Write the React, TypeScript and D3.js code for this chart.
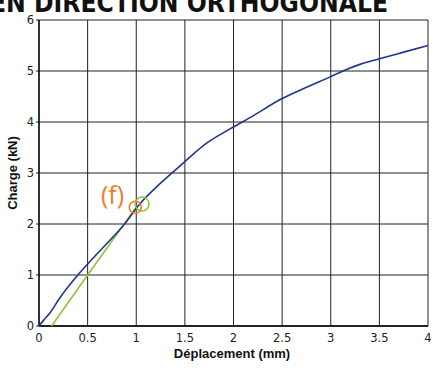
import React from "react";
import * as d3 from "d3";

const blueX = [0, 0.05, 0.11, 0.21, 0.4, 0.6, 0.88, 1.04, 1.25, 1.48, 1.72, 1.96, 2.2, 2.49, 2.75, 3.0, 3.15, 3.3, 3.5, 3.75, 4.0];
const blueY = [0, 0.12, 0.25, 0.54, 1.0, 1.42, 2.0, 2.4, 2.8, 3.19, 3.58, 3.86, 4.12, 4.45, 4.68, 4.89, 5.02, 5.13, 5.24, 5.37, 5.5];
const greenX = [0.13, 0.5, 1.0];
const greenY = [0, 1.0, 2.33];
const circleX = [1.06, 0.99];
const circleY = [2.39, 2.33];
const circleColors = ["#8cc63e", "#f07c2e"];
const xTicks = [0, 0.5, 1, 1.5, 2, 2.5, 3, 3.5, 4];
const yTicks = [0, 1, 2, 3, 4, 5, 6];

const W = 433, H = 372;
const left = 39, right = 428, top = 20, bottom = 326;

export default function App() {
  const x = d3.scaleLinear().domain([0, 4]).range([left, right]);
  const y = d3.scaleLinear().domain([0, 6]).range([bottom, top]);
  const line = d3.line<[number, number]>().x(d => x(d[0])).y(d => y(d[1])).curve(d3.curveMonotoneX);
  const blue = blueX.map((v, i) => [v, blueY[i]] as [number, number]);
  const green = greenX.map((v, i) => [v, greenY[i]] as [number, number]);
  const tickFont = "'DejaVu Sans', sans-serif";
  return (
    <svg width={W} height={H} style={{ position: "absolute", left: 0, top: 0, background: "#fff" }}>
      <text x={-10} y={12} textLength={398} lengthAdjust="spacingAndGlyphs" fontFamily="'DejaVu Sans', sans-serif" fontWeight="bold" fontSize={27} fill="#111">EN DIRECTION ORTHOGONALE</text>
      {xTicks.map(t => (
        <line key={"gx" + t} x1={x(t)} x2={x(t)} y1={top} y2={bottom} stroke="#222" strokeWidth={1} />
      ))}
      {yTicks.map(t => (
        <line key={"gy" + t} x1={left - 3} x2={right} y1={y(t)} y2={y(t)} stroke="#222" strokeWidth={1} />
      ))}
      <line x1={left} x2={left} y1={top} y2={bottom} stroke="#000" strokeWidth={1.3} />
      <line x1={left} x2={right} y1={bottom} y2={bottom} stroke="#000" strokeWidth={1.3} />
      {xTicks.map(t => (
        <text key={"tx" + t} x={x(t)} y={342} textAnchor="middle" fontFamily={tickFont} fontSize={11.5} fill="#222">{t}</text>
      ))}
      {yTicks.map(t => (
        <text key={"ty" + t} x={34} y={y(t) + 4} textAnchor="end" fontFamily={tickFont} fontSize={11.5} fill="#222">{t}</text>
      ))}
      <text x={232} y={358} textAnchor="middle" fontFamily="'Liberation Sans', Arial, sans-serif" fontWeight="bold" fontSize={13} fill="#111">Déplacement (mm)</text>
      <text transform={`translate(17,${173}) rotate(-90)`} textAnchor="middle" fontFamily="'Liberation Sans', Arial, sans-serif" fontWeight="bold" fontSize={13} fill="#111">Charge (kN)</text>
      <path d={line(green) || ""} fill="none" stroke="#8cc63e" strokeWidth={1.6} />
      <path d={line(blue) || ""} fill="none" stroke="#1f3590" strokeWidth={1.6} />
      {circleX.map((cx, i) => (
        <circle key={"c" + i} cx={x(cx)} cy={y(circleY[i])} r={i === 0 ? 7 : 6} fill="none" stroke={circleColors[i]} strokeWidth={1.5} />
      ))}
      <text x={101} y={204} fontFamily="'Open Sans', sans-serif" fontWeight={400} fontSize={25} fill="#f07c2e">(f)</text>
    </svg>
  );
}
